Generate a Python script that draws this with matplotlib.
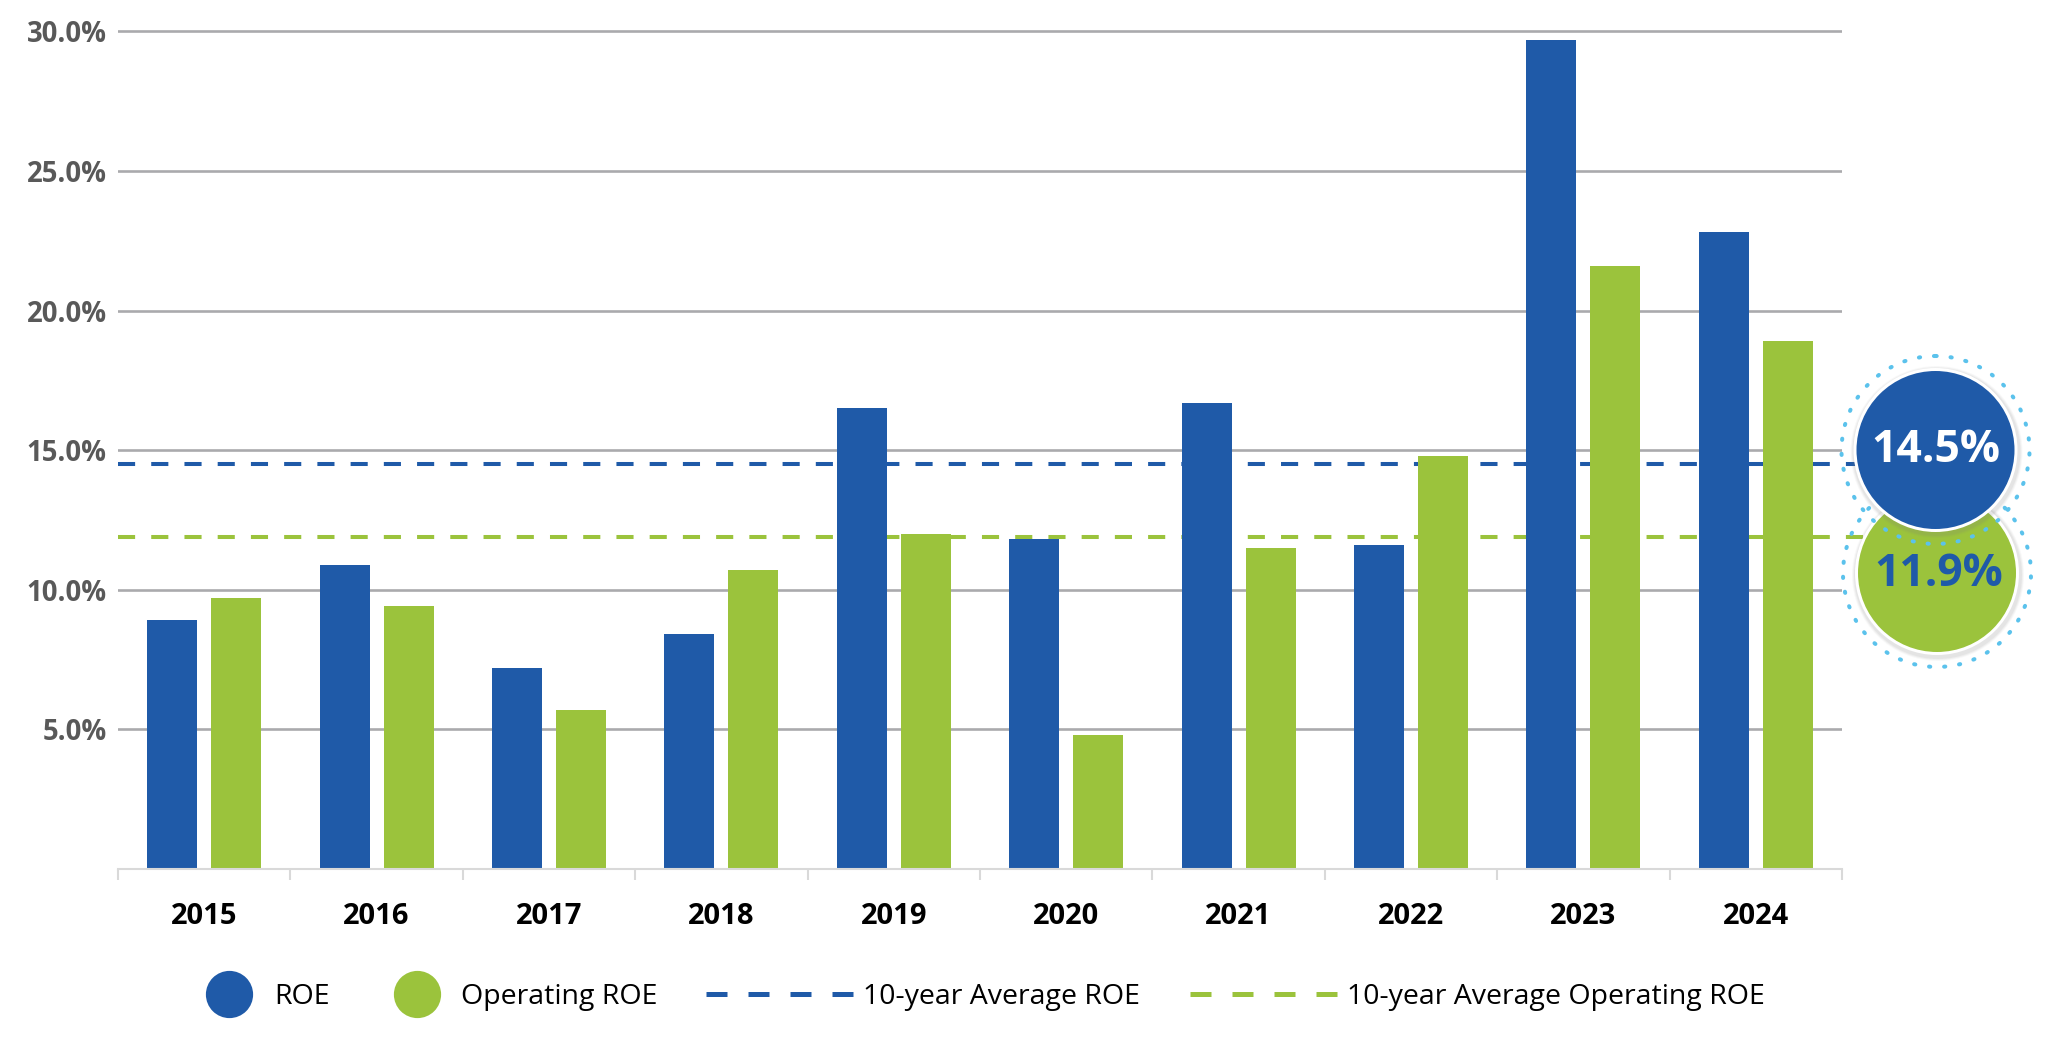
import matplotlib
matplotlib.use("Agg")
import matplotlib.pyplot as plt
from matplotlib.lines import Line2D
from matplotlib.patches import Circle
import numpy as np

plt.rcParams['font.family'] = ['Open Sans', 'DejaVu Sans']

# ---------------- data ----------------
years = ["2015", "2016", "2017", "2018", "2019", "2020", "2021", "2022", "2023", "2024"]
roe = [8.9, 10.9, 7.2, 8.4, 16.5, 11.8, 16.7, 11.6, 29.7, 22.8]
operating_roe = [9.7, 9.4, 5.7, 10.7, 12.0, 4.8, 11.5, 14.8, 21.6, 18.9]
avg_roe = 14.5
avg_operating_roe = 11.9
y_ticks = [5, 10, 15, 20, 25, 30]
legend_labels = ["ROE", "Operating ROE", "10-year Average ROE", "10-year Average Operating ROE"]

# ---------------- style ----------------
BLUE = "#1F5AA8"
GREEN = "#9BC33C"
RING = "#5BC2EC"
GRID = "#AAAAAD"
AXIS = "#D9D9D9"
YLAB = "#595959"

W, H = 2048, 1061
fig = plt.figure(figsize=(W / 100, H / 100), dpi=100)
fig.patch.set_facecolor("white")

ax = fig.add_axes([118 / W, 1 - 868.7 / H, 1724 / W, 840.0 / H])
x = np.arange(len(years))
bw = 0.29
off = 0.186
ax.bar(x - off, roe, width=bw, color=BLUE, zorder=3)
ax.bar(x + off, operating_roe, width=bw, color=GREEN, zorder=3)

# average dashed lines (extend beyond axes, under the badges)
ax.plot([-0.5, 10.0], [avg_roe, avg_roe], color=BLUE, lw=2.9, dashes=(4.25, 4.0),
        dash_capstyle='butt', clip_on=False, zorder=2)
ax.plot([-0.5, 10.0], [avg_operating_roe, avg_operating_roe], color=GREEN, lw=2.9,
        dashes=(4.25, 4.0), dash_capstyle='butt', clip_on=False, zorder=2)

ax.set_xlim(-0.5, 9.5)
ax.set_ylim(0, 30.1)
ax.set_yticks(y_ticks)
ax.set_yticklabels([f"{v:.1f}%" for v in y_ticks], fontsize=19.8, fontweight='bold', color=YLAB)
ax.yaxis.grid(True, color=GRID, lw=1.9)
ax.set_axisbelow(True)
ax.tick_params(axis='y', length=0, pad=8)

ax.set_xticks(x)
ax.set_xticklabels(years, fontsize=21, fontweight='bold', color='black')
ax.set_xticks(np.arange(-0.5, 10, 1), minor=True)
ax.tick_params(axis='x', which='major', length=0, pad=24)
ax.tick_params(axis='x', which='minor', length=8, width=1.5, color=AXIS, direction='out')

for s in ['top', 'right', 'left']:
    ax.spines[s].set_visible(False)
ax.spines['bottom'].set_color(AXIS)
ax.spines['bottom'].set_linewidth(1.5)
ax.spines['bottom'].set_zorder(4)

# ---------------- legends ----------------
h1 = [Line2D([], [], ls='none', marker='o', markersize=34, markerfacecolor=BLUE, markeredgewidth=0),
      Line2D([], [], ls='none', marker='o', markersize=34, markerfacecolor=GREEN, markeredgewidth=0)]
leg1 = fig.legend(h1, legend_labels[:2], loc='center left', bbox_to_anchor=(206 / W, 1 - 997 / H),
                  ncol=2, frameon=False, fontsize=20.5, handlelength=1.65, handletextpad=0.73,
                  columnspacing=2.25, borderpad=0, borderaxespad=0, numpoints=1)
h2 = [Line2D([], [], color=BLUE, lw=3.6, dashes=(4.2, 4.2), dash_capstyle='butt'),
      Line2D([], [], color=GREEN, lw=3.6, dashes=(4.2, 4.2), dash_capstyle='butt')]
leg2 = fig.legend(h2, legend_labels[2:], loc='center left', bbox_to_anchor=(706 / W, 1 - 997 / H),
                  ncol=2, frameon=False, fontsize=20.5, handlelength=5.16, handletextpad=0.35,
                  columnspacing=1.77, borderpad=0, borderaxespad=0)

# ---------------- badges ----------------
ov = fig.add_axes([0, 0, 1, 1])
ov.set_xlim(0, W)
ov.set_ylim(H, 0)
ov.axis('off')
ov.patch.set_alpha(0)


def badge(cx, cy, face, z):
    ring = Circle((cx, cy), 94, fill=False, edgecolor=RING, lw=2.9,
                  linestyle=(0, (0.3, 3.45)), capstyle='round', zorder=z)
    ov.add_patch(ring)
    for r, a in [(86, 0.05), (85, 0.07), (84, 0.09)]:
        ov.add_patch(Circle((cx + 1, cy + 2), r, facecolor='#808080', edgecolor='none', alpha=a, zorder=z + 0.1))
    ov.add_patch(Circle((cx, cy), 82, facecolor='white', edgecolor='none', zorder=z + 0.2))
    ov.add_patch(Circle((cx, cy), 79, facecolor=face, edgecolor='none', zorder=z + 0.3))


badge(1937, 573, GREEN, 1)
badge(1935.5, 450, BLUE, 2)
ov.text(1939, 574, f"{avg_operating_roe:.1f}%", color=BLUE, fontsize=32, fontweight='bold',
        ha='center', va='center', zorder=1.5)
ov.text(1936, 451, f"{avg_roe:.1f}%", color='white', fontsize=32, fontweight='bold',
        ha='center', va='center', zorder=2.5)

fig.savefig("out.png", dpi=100)
